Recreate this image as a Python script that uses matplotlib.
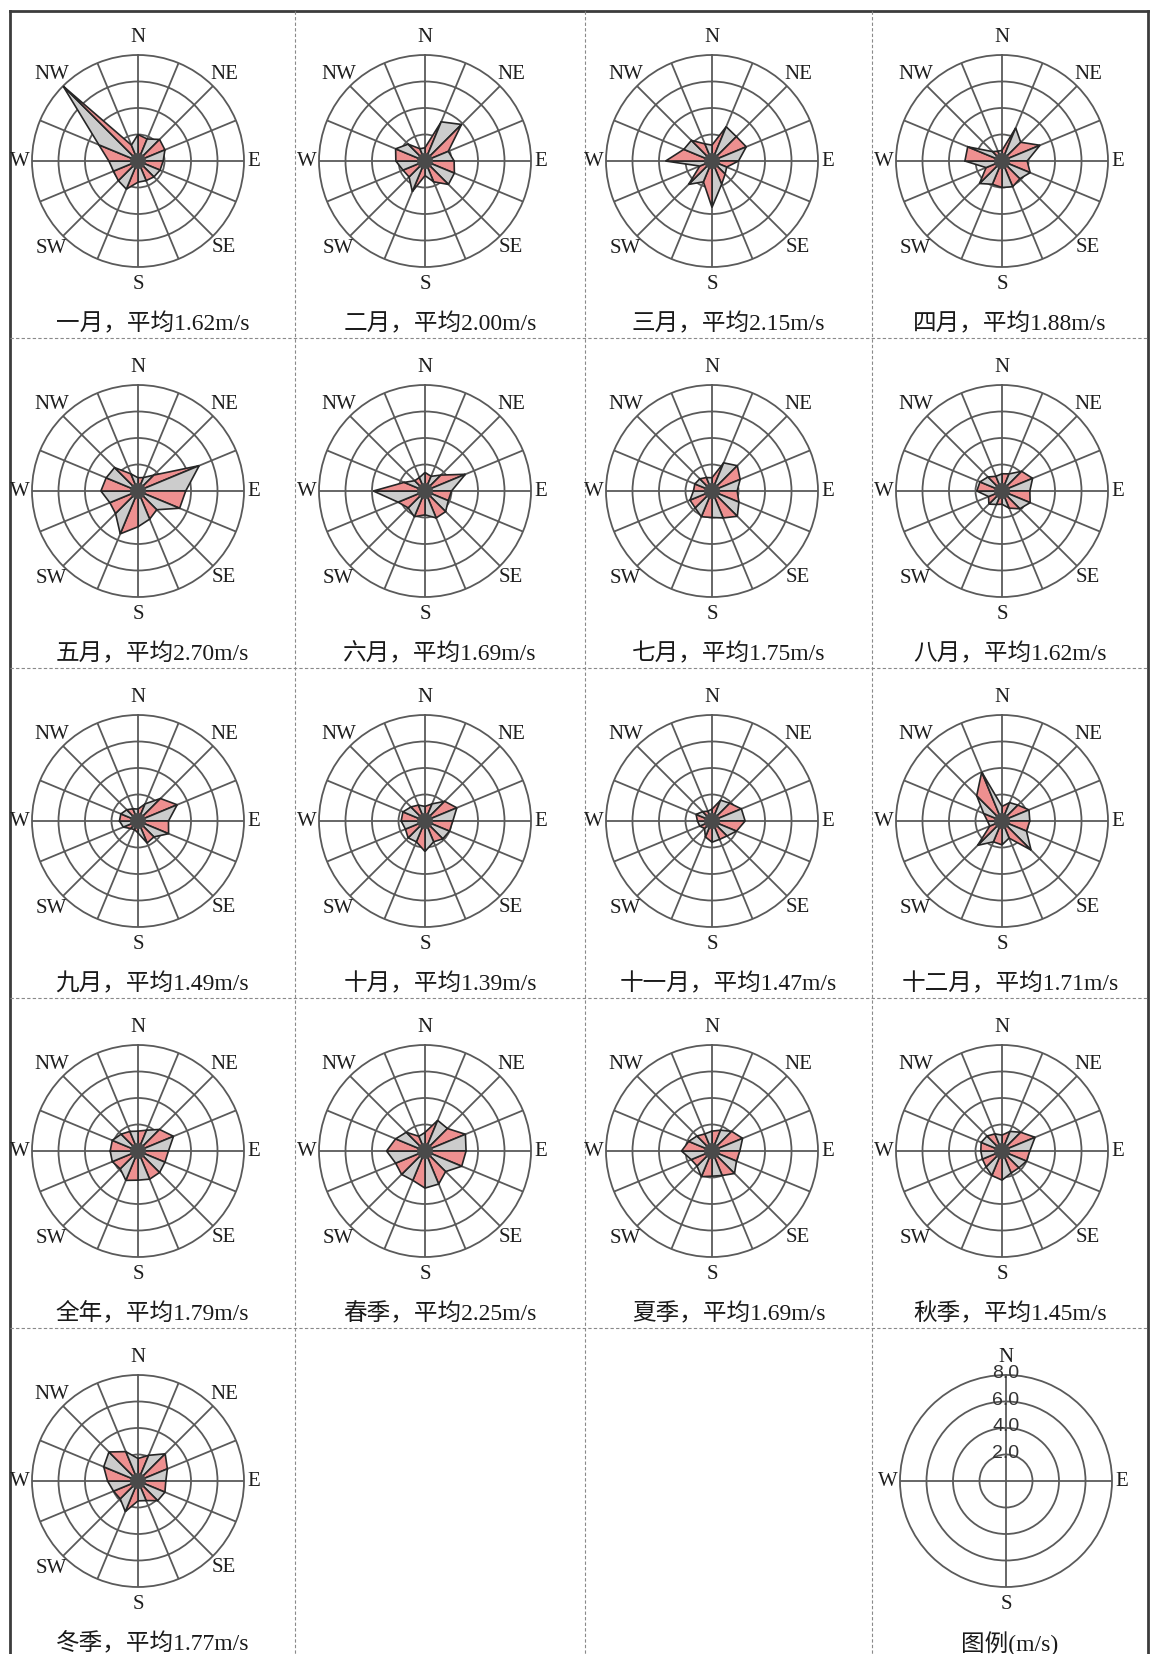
import numpy as np
import matplotlib
matplotlib.use('Agg')
import matplotlib.pyplot as plt

# ---------------- data ----------------
directions = ['N', 'NNE', 'NE', 'ENE', 'E', 'ESE', 'SE', 'SSE',
              'S', 'SSW', 'SW', 'WSW', 'W', 'WNW', 'NW', 'NNW']
compass_labels = ['N', 'NE', 'E', 'SE', 'S', 'SW', 'W', 'NW']

names = ['一月', '二月', '三月', '四月', '五月', '六月', '七月', '八月',
         '九月', '十月', '十一月', '十二月', '全年', '春季', '夏季', '秋季', '冬季']
means = [1.62, 2.00, 2.15, 1.88, 2.70, 1.69, 1.75, 1.62,
         1.49, 1.39, 1.47, 1.71, 1.79, 2.25, 1.69, 1.45, 1.77]

# mean wind speed (m/s) per direction, order as `directions`
jan = [2.0, 1.8, 2.3, 2.2, 1.9, 1.8, 1.7, 1.6, 1.6, 2.3, 2.1, 2.0, 2.2, 3.2, 8.0, 1.3]
feb = [1.0, 3.2, 3.9, 1.9, 2.2, 2.4, 2.5, 1.7, 1.1, 2.5, 1.7, 1.8, 2.2, 2.4, 1.8, 1.0]
mar = [1.2, 2.8, 2.6, 2.8, 2.0, 1.2, 1.4, 1.9, 3.5, 1.7, 2.5, 1.0, 3.5, 2.3, 2.2, 1.4]
apr = [0.8, 2.7, 2.0, 3.1, 1.9, 2.3, 1.9, 2.1, 2.0, 1.9, 2.4, 1.3, 2.8, 2.8, 1.0, 0.8]
may = [1.0, 1.1, 1.7, 5.0, 3.6, 3.4, 2.0, 2.3, 2.7, 3.5, 2.4, 2.3, 2.8, 2.6, 2.5, 1.4]
jun = [1.4, 1.2, 1.7, 3.3, 2.0, 1.9, 2.2, 2.2, 1.8, 2.1, 1.8, 2.2, 3.9, 1.7, 1.1, 1.1]
jul = [1.0, 2.3, 2.7, 2.3, 1.9, 2.2, 2.7, 2.2, 2.0, 2.1, 1.8, 1.8, 1.4, 1.4, 1.3, 1.1]
aug = [1.3, 1.4, 2.1, 2.5, 2.1, 2.3, 1.9, 1.4, 1.0, 1.1, 1.4, 1.1, 1.9, 1.8, 1.5, 1.2]
sep = [0.9, 1.4, 2.4, 3.2, 2.3, 2.5, 1.7, 1.8, 0.9, 0.7, 0.8, 1.2, 1.4, 1.4, 1.2, 1.0]
octo = [1.1, 1.4, 2.1, 2.6, 2.1, 2.0, 1.9, 1.7, 2.3, 1.7, 1.8, 1.6, 1.8, 1.8, 1.5, 1.3]
nov = [0.9, 1.7, 1.9, 2.4, 2.5, 2.0, 1.6, 1.5, 1.6, 1.3, 0.8, 1.0, 1.1, 1.3, 1.0, 0.8]
dec = [1.1, 1.5, 1.7, 2.2, 2.1, 2.0, 3.1, 1.4, 1.8, 1.7, 2.6, 1.0, 1.1, 1.5, 2.7, 4.0]
year = [1.5, 1.7, 2.3, 2.9, 2.3, 2.2, 2.3, 2.3, 2.2, 2.4, 1.9, 2.1, 2.1, 2.1, 1.8, 1.6]
spring = [1.4, 2.5, 2.4, 3.3, 3.1, 3.0, 2.2, 2.7, 2.8, 2.4, 2.5, 2.4, 2.9, 2.4, 2.0, 1.2]
summer = [1.5, 1.7, 2.1, 2.5, 2.1, 2.0, 2.4, 2.0, 1.9, 2.1, 1.6, 1.7, 2.3, 1.9, 1.6, 1.4]
autumn = [1.2, 1.6, 2.0, 2.7, 2.1, 2.0, 1.8, 1.8, 2.2, 2.0, 1.7, 1.6, 1.6, 1.7, 1.6, 1.4]
winter = [1.7, 2.1, 2.9, 2.4, 2.1, 2.2, 2.1, 1.6, 1.5, 2.5, 1.9, 2.0, 2.3, 2.8, 3.1, 2.4]

panels = [jan, feb, mar, apr, may, jun, jul, aug, sep, octo, nov, dec,
          year, spring, summer, autumn, winter]

ring_values = [2, 4, 6, 8]
ring_labels = ['2.0', '4.0', '6.0', '8.0']
legend_title = '图例(m/s)'

# ---------------- style / layout ----------------
W, H = 1151, 1654
R = 106                      # outer ring radius in px
col_cx = [138, 425, 712, 1002]
row_cy = [161 + 330 * r for r in range(5)]
cell_x = [10, 295, 585, 872, 1148]
cell_y = [11, 338, 668, 998, 1328, 1700]
GRID = '#5a5a5a'
PINK = '#ee9090'
GREY = '#cccccc'
EDGE = '#262626'
label_r = {'N': 9.3, 'NE': 9.2, 'E': 8.7, 'SE': 9.2, 'S': 9.3, 'SW': 9.3, 'W': 8.9, 'NW': 9.2}
dir_font = dict(family='Liberation Serif', size=15, color='#1e1e1e')
title_font = dict(family=['Liberation Serif', 'Noto Sans CJK SC'], size=17, color='#1a1a1a')

fig = plt.figure(figsize=(W / 100, H / 100), dpi=100)
fig.patch.set_facecolor('white')

bg = fig.add_axes([0, 0, 1, 1])
bg.set_xlim(0, W)
bg.set_ylim(H, 0)
bg.axis('off')

# frame
bg.plot([cell_x[0], cell_x[0]], [cell_y[0], H + 10], color='#3c3c3c', lw=2.0)
bg.plot([cell_x[-1], cell_x[-1]], [cell_y[0], H + 10], color='#3c3c3c', lw=2.0)
bg.plot([cell_x[0], cell_x[-1]], [cell_y[0], cell_y[0]], color='#3c3c3c', lw=2.0)
for x in cell_x[1:-1]:
    bg.plot([x, x], [cell_y[0], H + 10], color='#8a8a8a', lw=0.8, ls=(0, (3, 2)))
for y in cell_y[1:-1]:
    bg.plot([cell_x[0], cell_x[-1]], [y, y], color='#8a8a8a', lw=0.8, ls=(0, (3, 2)))

theta = np.deg2rad(np.arange(16) * 22.5)


def make_polar(cx, cy):
    ax = fig.add_axes([(cx - R) / W, 1 - (cy + R) / H, 2 * R / W, 2 * R / H],
                      projection='polar')
    ax.set_theta_zero_location('N')
    ax.set_theta_direction(-1)
    ax.set_ylim(0, 8)
    ax.set_yticks(ring_values[:-1])
    ax.set_yticklabels([])
    ax.set_xticklabels([])
    ax.tick_params(length=0)
    ax.grid(True, color=GRID, lw=1.3)
    ax.spines['polar'].set_color(GRID)
    ax.spines['polar'].set_linewidth(1.3)
    ax.patch.set_alpha(0)
    return ax


for k, vals in enumerate(panels):
    r, c = divmod(k, 4)
    ax = make_polar(col_cx[c], row_cy[r])
    ax.set_xticks(theta)
    ax.set_xticklabels([])
    for i in range(16):
        j = (i + 1) % 16
        ax.fill([0, theta[i], theta[j]], [0, vals[i], vals[j]],
                facecolor=GREY if i % 2 else PINK, edgecolor=EDGE, lw=1.2, zorder=3)
    circ = np.linspace(0, 2 * np.pi, 60)
    ax.fill(circ, np.full_like(circ, 0.55), color='#4a4a4a', zorder=4)
    for lab in compass_labels:
        ang = np.deg2rad(directions.index(lab) * 22.5)
        ax.text(ang, label_r[lab], lab, ha='center', va='center', clip_on=False, **dir_font)
    cx_title = (cell_x[c] + cell_x[c + 1]) / 2
    bg.text(cx_title, row_cy[r] + 163, f'{names[k]}，平均{means[k]:.2f}m/s',
            ha='center', va='center', **title_font)

# legend rose
lax = make_polar(col_cx[3] + 4, row_cy[4])
lax.set_xticks(np.deg2rad([0, 90, 180, 270]))
lax.set_xticklabels([])
for lab in ['N', 'E', 'S', 'W']:
    ang = np.deg2rad(directions.index(lab) * 22.5)
    lax.text(ang, label_r[lab], lab, ha='center', va='center', clip_on=False, **dir_font)
for v, t in zip(ring_values, ring_labels):
    lax.text(0, v + 0.1, t, ha='center', va='center', family='Liberation Sans',
             size=14, color='#333333', clip_on=False)
bg.text((cell_x[3] + cell_x[4]) / 2, row_cy[4] + 163, legend_title,
        ha='center', va='center', **title_font)

fig.savefig('out.png', dpi=100, facecolor='white')
